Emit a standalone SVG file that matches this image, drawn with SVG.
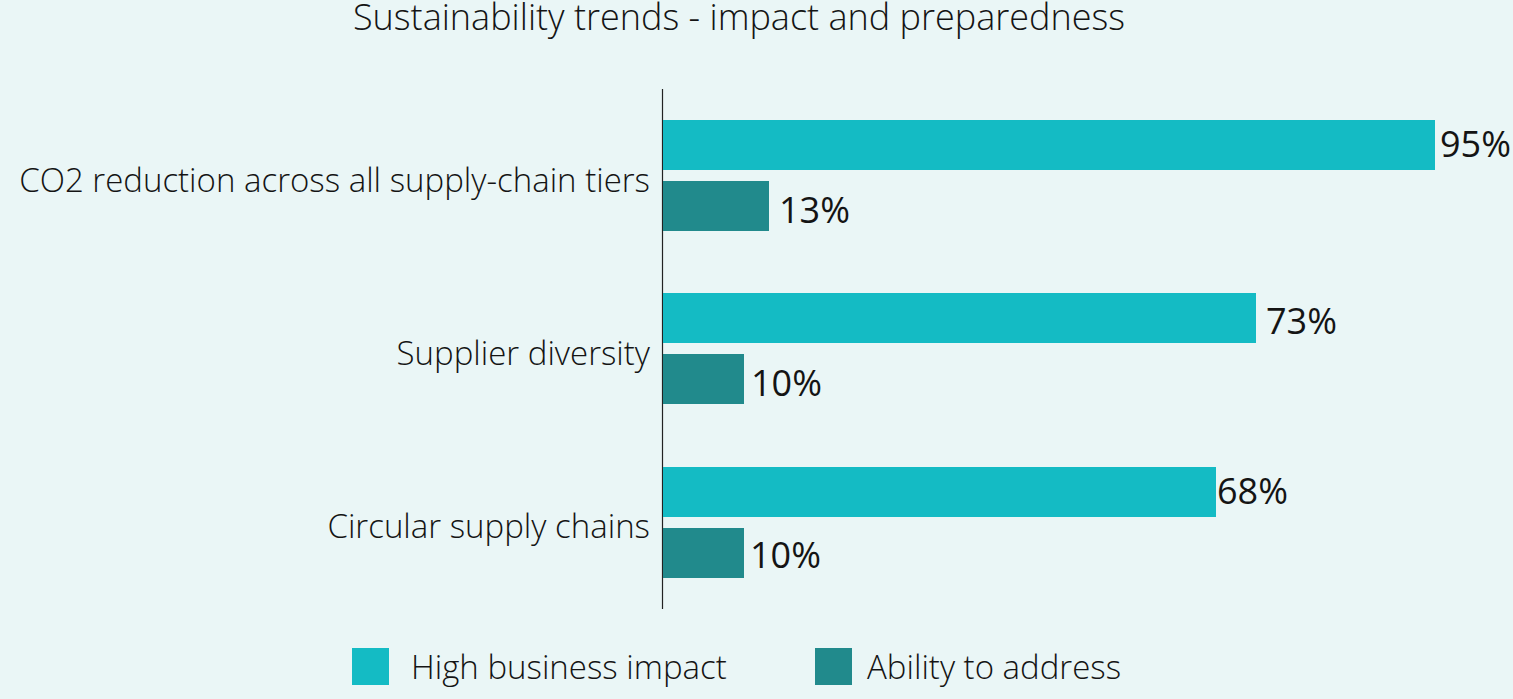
<svg xmlns="http://www.w3.org/2000/svg" width="1513" height="699" viewBox="0 0 1513 699">
<style>
.t{font-family:"Open Sans","Noto Sans","Liberation Sans",sans-serif;fill:#141414}
.title{font-size:36px;font-weight:300}
.cat{font-size:33px;font-weight:300}
.val{font-size:36px;font-weight:400}
.leg{font-size:33px;font-weight:300}
.hi{fill:#14BBC4}
.ab{fill:#218A8C}
</style>
<rect width="1513" height="699" fill="#EAF6F6"/>
<text class="t title" x="739" y="30" text-anchor="middle">Sustainability trends - impact and preparedness</text>
<g id="connectors">
<line x1="662.5" y1="89" x2="662.5" y2="609" stroke="#222" stroke-width="1.2"/>
</g>
<g id="co2">
<rect class="hi" x="663" y="120" width="772" height="50"/>
<rect class="ab" x="663" y="181" width="106" height="50"/>
<text class="t cat" x="650" y="192" text-anchor="end">CO2 reduction across all supply-chain tiers</text>
<text class="t val" x="1440" y="157">95%</text>
<text class="t val" x="779" y="223">13%</text>
</g>
<g id="diversity">
<rect class="hi" x="663" y="293" width="593" height="50"/>
<rect class="ab" x="663" y="354" width="81" height="50"/>
<text class="t cat" x="650" y="365" text-anchor="end">Supplier diversity</text>
<text class="t val" x="1266" y="334">73%</text>
<text class="t val" x="751" y="396">10%</text>
</g>
<g id="circular">
<rect class="hi" x="663" y="467" width="553" height="50"/>
<rect class="ab" x="663" y="528" width="81" height="50"/>
<text class="t cat" x="650" y="538" text-anchor="end">Circular supply chains</text>
<text class="t val" x="1217" y="504">68%</text>
<text class="t val" x="750" y="568">10%</text>
</g>
<g id="legend">
<rect class="hi" x="352" y="648" width="37" height="37"/>
<text class="t leg" x="411" y="679">High business impact</text>
<rect class="ab" x="815" y="648" width="37" height="37"/>
<text class="t leg" x="867" y="679">Ability to address</text>
</g>
</svg>
